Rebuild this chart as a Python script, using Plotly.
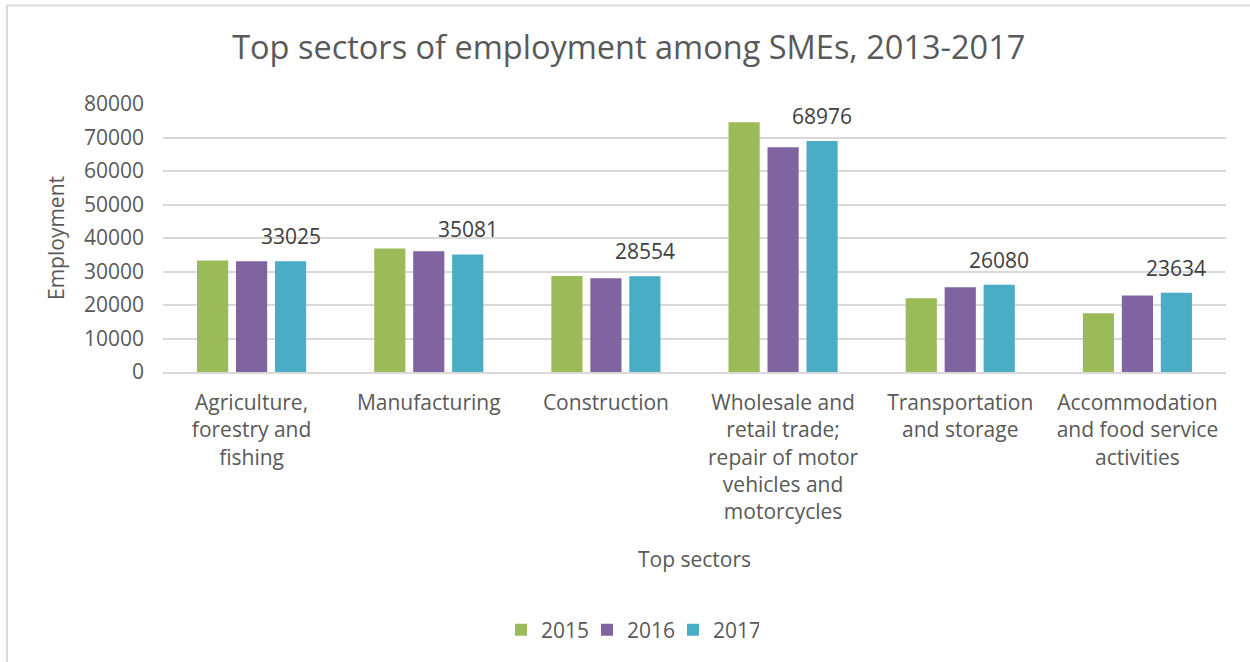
import plotly.graph_objects as go

# Sector categories (x axis) and employment per year
sectors = [
    "Agriculture,<br>forestry and<br>fishing",
    "Manufacturing",
    "Construction",
    "Wholesale and<br>retail trade;<br>repair of motor<br>vehicles and<br>motorcycles",
    "Transportation<br>and storage",
    "Accommodation<br>and food service<br>activities",
]
years = ["2015", "2016", "2017"]
emp_2015 = [33250, 36840, 28660, 74540, 22000, 17520]
emp_2016 = [33050, 36030, 27970, 67080, 25280, 22800]
emp_2017 = [33025, 35081, 28554, 68976, 26080, 23634]
y_ticks = [0, 10000, 20000, 30000, 40000, 50000, 60000, 70000, 80000]
y_tick_labels = [str(v) for v in y_ticks]

colors = ["#9BBB59", "#8064A2", "#4BACC6"]
FONT = "Open Sans"
GREY = "#595959"

W, H = 1250, 662
ML, MR, MT, MB = 163, 24, 104, 290
PW, PH = W - ML - MR, H - MT - MB
BARGAP, GROUPGAP = 0.34, 0.2

fig = go.Figure()
for name, vals, col in zip(years, [emp_2015, emp_2016, emp_2017], colors):
    fig.add_trace(go.Bar(name=name, x=sectors, y=vals, marker_color=col,
                         marker_line_width=0, hoverinfo="x+y"))

# value labels above the 2017 bars
slot_px = (1 - BARGAP) * (PW / len(sectors)) / len(years)
for s, v in zip(sectors, emp_2017):
    fig.add_annotation(x=s, y=v, text=str(v), showarrow=False,
                       xshift=slot_px, yshift=25, yanchor="middle",
                       font=dict(family=FONT, size=21, color="#404040"))

def px_x(p):
    return (p - ML) / PW

def px_y(p):
    return (H - MB - p) / PH

fig.add_annotation(xref="paper", yref="paper", x=0.5, y=px_y(559),
                   text="Top sectors", showarrow=False, yanchor="middle",
                   font=dict(family=FONT, size=21, color=GREY))
fig.add_annotation(xref="paper", yref="paper", x=px_x(56), y=0.5,
                   text="Employment", showarrow=False, textangle=-90,
                   xanchor="center", yanchor="middle",
                   font=dict(family=FONT, size=21, color=GREY))

# chart frame
fig.add_shape(type="line", xref="paper", yref="paper",
              x0=px_x(7), x1=px_x(7), y0=px_y(5), y1=px_y(H + 5),
              line=dict(color="#D9D9D9", width=2))
fig.add_shape(type="line", xref="paper", yref="paper",
              x0=px_x(6), x1=px_x(W + 5), y0=px_y(5.5), y1=px_y(5.5),
              line=dict(color="#D9D9D9", width=2))

fig.update_layout(
    width=W, height=H,
    margin=dict(l=ML, r=MR, t=MT, b=MB),
    paper_bgcolor="white", plot_bgcolor="white",
    barmode="group", bargap=BARGAP, bargroupgap=GROUPGAP,
    title=dict(text="Top sectors of employment among SMEs, 2013-2017",
               x=0.503, xref="container", xanchor="center",
               y=1 - 48 / H, yref="container", yanchor="middle",
               font=dict(family=FONT, size=32.5, color=GREY)),
    font=dict(family=FONT, size=21, color=GREY),
    legend=dict(orientation="h", x=0.504, xref="container", xanchor="center",
                y=1 - 630 / H, yref="container", yanchor="middle",
                entrywidth=41, entrywidthmode="pixels",
                font=dict(family=FONT, size=21, color=GREY),
                itemclick=False, traceorder="normal"),
    showlegend=True,
)
fig.update_yaxes(range=[0, 80000], tickvals=y_ticks, ticktext=y_tick_labels,
                 showgrid=True, gridcolor="#D9D9D9", gridwidth=1.5,
                 zeroline=False, showline=False, ticks="",
                 ticklabelstandoff=18,
                 tickfont=dict(family=FONT, size=21, color=GREY))
fig.update_xaxes(showline=True, linecolor="#D9D9D9", linewidth=1.5,
                 ticks="", ticklabelstandoff=11,
                 tickfont=dict(family=FONT, size=21, color=GREY))

fig.write_html("out.html")
